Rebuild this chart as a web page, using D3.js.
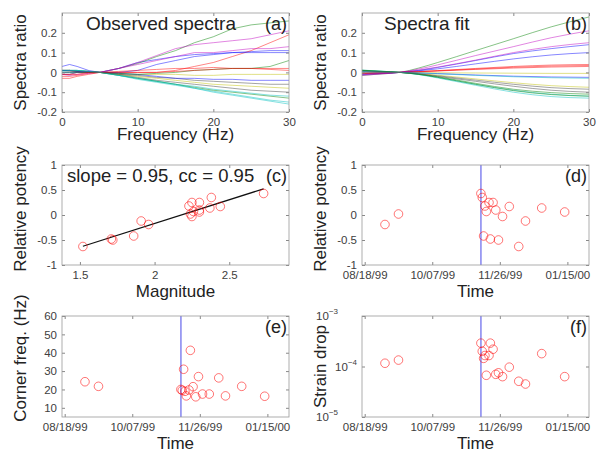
<!DOCTYPE html>
<html>
<head>
<meta charset="utf-8">
<script src="https://cdn.jsdelivr.net/npm/d3@7"></script>
<style>
  body { margin: 0; background: #fff; }
  svg text { font-family: "Liberation Sans", Arial, sans-serif; }
</style>
</head>
<body>
<svg id="fig" width="604" height="452"></svg>
<script>
// ---- data ----
// spectral ratio curves (panel a: observed, panel b: fitted)
const obsFreq = [0, 1, 2, 3.5, 5, 7.5, 10, 12.5, 15, 17.5, 20, 22.5, 25, 27.5, 30];
const obsRatios = [
  [0.03, 0.04, 0.03, 0.01, 0, 0.02, 0.05, 0.065, 0.08, 0.09, 0.095, 0.1, 0.105, 0.11, 0.11],
  [-0.01, -0.01, 0, 0, 0, 0.02, 0.045, 0.08, 0.11, 0.15, 0.18, 0.22, 0.24, 0.25, 0.26],
  [-0.02, -0.02, -0.015, -0.005, 0, 0, 0, 0, 0.01, 0.03, 0.05, 0.08, 0.11, 0.15, 0.19],
  [0.01, 0.01, 0.01, 0.005, 0, -0.015, -0.03, -0.045, -0.06, -0.08, -0.095, -0.11, -0.125, -0.14, -0.15],
  [-0.01, -0.015, -0.01, -0.005, 0, 0.02, 0.05, 0.085, 0.12, 0.14, 0.15, 0.16, 0.17, 0.19, 0.21],
  [0.01, 0.01, 0.005, 0, 0, -0.005, -0.01, -0.01, -0.01, -0.015, -0.015, -0.01, -0.01, -0.01, -0.01],
  [0.01, 0.01, 0.005, 0.005, 0, -0.01, -0.025, -0.04, -0.05, -0.06, -0.07, -0.08, -0.09, -0.095, -0.1],
  [0, 0, 0, 0, 0, 0, 0.01, 0.04, 0.06, 0.08, 0.09, 0.1, 0.1, 0.1, 0.1],
  [0.01, 0.01, 0.01, 0.005, 0, -0.015, -0.03, -0.045, -0.06, -0.075, -0.09, -0.1, -0.11, -0.12, -0.13],
  [-0.03, -0.03, -0.02, -0.01, 0, 0.005, 0.01, 0.015, 0.02, 0.02, 0.025, 0.02, 0.02, 0.015, 0.01],
  [0.005, 0.01, 0.01, 0.005, 0, -0.015, -0.035, -0.05, -0.065, -0.08, -0.1, -0.115, -0.13, -0.145, -0.16],
  [-0.01, -0.01, 0, 0, 0, 0.02, 0.04, 0.06, 0.08, 0.1, 0.1, 0.11, 0.12, 0.12, 0.13],
  [0.01, 0.01, 0.005, 0.005, 0, -0.01, -0.02, -0.03, -0.04, -0.05, -0.06, -0.065, -0.07, -0.075, -0.08],
  [0.01, 0.005, 0.005, 0, 0, -0.01, -0.015, -0.025, -0.03, -0.04, -0.045, -0.05, -0.055, -0.06, -0.06],
  [0.01, 0.01, 0.005, 0.005, 0, -0.005, -0.01, -0.02, -0.03, -0.03, -0.035, -0.035, -0.04, -0.04, -0.04],
  [0, 0, 0, 0, 0, -0.005, -0.01, -0.005, 0, 0.01, 0.015, 0.02, 0.02, 0.03, 0.06],
  [-0.01, -0.01, -0.01, 0, 0, 0, 0, 0, 0.005, 0.01, 0.015, 0.02, 0.02, 0.02, 0.02],
  [0.01, 0.01, 0.01, 0.005, 0, -0.015, -0.03, -0.045, -0.06, -0.07, -0.085, -0.095, -0.105, -0.115, -0.12]
];

const fitFreq = [0, 2.5, 5, 7.5, 10, 15, 20, 25, 30];
const fitRatios = [
  [-0.01, -0.006, 0, 0.01, 0.025, 0.06, 0.095, 0.12, 0.14],
  [-0.015, -0.008, 0, 0.022, 0.05, 0.11, 0.17, 0.23, 0.28],
  [-0.005, -0.003, 0, 0.004, 0.009, 0.02, 0.03, 0.037, 0.04],
  [0.01, 0.006, 0, -0.01, -0.025, -0.06, -0.09, -0.11, -0.12],
  [-0.015, -0.008, 0, 0.017, 0.038, 0.085, 0.13, 0.175, 0.21],
  [0.001, 0, 0, -0.001, -0.002, -0.003, -0.004, -0.005, -0.005],
  [0.008, 0.004, 0, -0.008, -0.02, -0.045, -0.07, -0.09, -0.1],
  [-0.008, -0.004, 0, 0.008, 0.018, 0.043, 0.068, 0.088, 0.1],
  [0.01, 0.005, 0, -0.009, -0.022, -0.055, -0.085, -0.102, -0.11],
  [-0.004, -0.002, 0, 0.003, 0.007, 0.015, 0.022, 0.027, 0.03],
  [0.012, 0.006, 0, -0.011, -0.028, -0.065, -0.1, -0.122, -0.13],
  [-0.012, -0.006, 0, 0.012, 0.027, 0.062, 0.1, 0.13, 0.15],
  [0.006, 0.003, 0, -0.006, -0.014, -0.033, -0.052, -0.067, -0.075],
  [0.007, 0.004, 0, -0.007, -0.017, -0.039, -0.06, -0.077, -0.085],
  [0.003, 0.001, 0, -0.003, -0.006, -0.013, -0.019, -0.023, -0.025],
  [0.011, 0.006, 0, -0.01, -0.025, -0.06, -0.092, -0.112, -0.12],
  [-0.005, -0.002, 0, 0.004, 0.008, 0.017, 0.026, 0.032, 0.035],
  [0.003, 0.001, 0, -0.003, -0.007, -0.015, -0.022, -0.027, -0.03]
];

// events
const eventDates = ["1999-09-02", "1999-09-12", "1999-11-12", "1999-11-13", "1999-11-14", "1999-11-15",
  "1999-11-16", "1999-11-18", "1999-11-19", "1999-11-21", "1999-11-23", "1999-11-25",
  "1999-11-28", "1999-12-03", "1999-12-10", "1999-12-15", "1999-12-27", "2000-01-13"];
const magnitude = [1.96, 2.24, 2.73, 2.38, 1.86, 2.23, 2.26, 2.25, 1.71, 2.30, 2.30, 1.72, 2.25, 2.44, 1.52, 1.91, 2.37, 2.30];
const potency = [-0.19, 0.02, 0.43, 0.35, -0.42, 0.18, 0.07, 0.25, -0.48, 0.25, 0.10, -0.50, -0.03, 0.17, -0.63, -0.12, 0.14, 0.06];
const cornerFreq = [24.2, 21.7, 20.0, 19.5, 31.0, 19.0, 16.5, 19.7, 41.3, 21.5, 16.0, 27.0, 17.5, 17.5, 26.3, 16.5, 21.7, 16.3];
const strainDrop = [1.16e-4, 1.34e-4, 2.9e-4, 2.0e-4, 1.45e-4, 1.65e-4, 0.67e-4, 1.65e-4, 2.9e-4, 2.2e-4, 0.70e-4, 0.75e-4, 0.63e-4, 0.97e-4, 0.51e-4, 0.45e-4, 1.8e-4, 0.63e-4];
const mainshockDate = "1999-11-12";
const fitSlope = 0.95;
const fitIntercept = -2.07;

const freqTicks = [0, 10, 20, 30];
const ratioTicks = [-0.2, -0.1, 0, 0.1, 0.2];
const magTicks = [1.5, 2, 2.5];
const potTicks = [-1, -0.5, 0, 0.5, 1];
const dateTicks = ["1999-08-18", "1999-10-07", "1999-11-26", "2000-01-15"];
const fcTicks = [10, 20, 30, 40, 50, 60];
const sdTicks = [1e-5, 1e-4, 1e-3];

// ---- layout ----
const svg = d3.select("#fig");
const cols = [[62, 289], [362, 589]];
const rows = [[13, 112], [165, 265], [316, 417]];
const xLabelGap = [28, 32, 32];
const lineColors = ["#0000ff", "#008000", "#ff0000", "#00bfbf", "#bf00bf", "#bfbf00", "#404040"];
const parseDate = d3.timeParse("%Y-%m-%d");
const dates = eventDates.map(parseDate);
const num = d => String(d);

function drawAxes(x, y, o) {
  const g = svg.append("g");
  const [x0, x1] = x.range();
  const [y1, y0] = y.range();
  g.append("g").attr("transform", `translate(0,${y1})`)
    .call(d3.axisBottom(x).tickValues(o.xTicks).tickFormat(o.xFmt).tickSize(-3).tickSizeOuter(0).tickPadding(6));
  g.append("g").attr("transform", `translate(0,${y0})`)
    .call(d3.axisTop(x).tickValues(o.xTicks).tickFormat("").tickSize(-3).tickSizeOuter(0));
  g.append("g").attr("transform", `translate(${x0},0)`)
    .call(d3.axisLeft(y).tickValues(o.yTicks).tickFormat(o.yFmt || num).tickSize(-3).tickSizeOuter(0).tickPadding(5));
  g.append("g").attr("transform", `translate(${x1},0)`)
    .call(d3.axisRight(y).tickValues(o.yTicks).tickFormat("").tickSize(-3).tickSizeOuter(0));
  g.selectAll(".domain").remove();
  g.selectAll(".tick line").attr("stroke", "#888");
  g.selectAll(".tick text").attr("fill", "#404040").style("font-size", "11.5px");
  g.append("rect")
    .attr("x", x0).attr("y", y0)
    .attr("width", x1 - x0).attr("height", y1 - y0)
    .attr("fill", "none").attr("stroke", "#999").attr("stroke-width", 0.8);

  svg.append("text")
    .attr("x", (x0 + x1) / 2).attr("y", y1 + o.xGap)
    .attr("text-anchor", "middle").attr("fill", "#222")
    .style("font-size", "17px").text(o.xLabel);
  svg.append("text")
    .attr("transform", `translate(${x0 - 36},${o.yLabelY || (y0 + y1) / 2}) rotate(-90)`)
    .attr("text-anchor", "middle").attr("fill", "#222")
    .style("font-size", "17px").text(o.yLabel);
  svg.append("text")
    .attr("x", x1 - 2).attr("y", y0 + 17)
    .attr("text-anchor", "end").attr("fill", "#222")
    .style("font-size", "18px").text(o.tag);
  return g;
}

function clip(id, x, y) {
  svg.append("clipPath").attr("id", id).append("rect")
    .attr("x", x.range()[0]).attr("y", y.range()[1])
    .attr("width", x.range()[1] - x.range()[0]).attr("height", y.range()[0] - y.range()[1]);
  return `url(#${id})`;
}

// ---- (a) and (b) spectra ----
[[obsFreq, obsRatios, d3.curveLinear, "Observed spectra", 86, "(a)"],
 [fitFreq, fitRatios, d3.curveMonotoneX, "Spectra fit", 384, "(b)"]].forEach(([freq, ratios, curve, title, tx, tag], c) => {
  const x = d3.scaleLinear().domain([0, 30]).range(cols[c]);
  const y = d3.scaleLinear().domain([-0.2, 0.3]).range([rows[0][1], rows[0][0]]);
  const line = d3.line().x((d, i) => x(freq[i])).y(d => y(d)).curve(curve);
  svg.append("g").attr("clip-path", clip("clipSpec" + c, x, y))
    .selectAll("path").data(ratios).enter().append("path")
    .attr("d", line)
    .attr("fill", "none")
    .attr("stroke", (d, i) => lineColors[i % lineColors.length])
    .attr("stroke-width", 0.8)
    .attr("opacity", 0.6);
  drawAxes(x, y, { xTicks: freqTicks, xFmt: num, yTicks: ratioTicks, xGap: xLabelGap[0],
    xLabel: "Frequency (Hz)", yLabel: "Spectra ratio", tag: tag });
  svg.append("text").attr("x", tx).attr("y", 30).attr("fill", "#222")
    .style("font-size", "19px").text(title);
});

// ---- (c) potency vs magnitude ----
{
  const x = d3.scaleLinear().domain([1.38, 2.9]).range(cols[0]);
  const y = d3.scaleLinear().domain([-1, 1]).range([rows[1][1], rows[1][0]]);
  const mExt = d3.extent(magnitude);
  svg.append("line")
    .attr("x1", x(mExt[0])).attr("y1", y(fitSlope * mExt[0] + fitIntercept))
    .attr("x2", x(mExt[1])).attr("y2", y(fitSlope * mExt[1] + fitIntercept))
    .attr("stroke", "#111").attr("stroke-width", 1.2);
  svg.append("g").selectAll("circle").data(magnitude).enter().append("circle")
    .attr("cx", d => x(d)).attr("cy", (d, i) => y(potency[i])).attr("r", 4.3)
    .attr("fill", "none").attr("stroke", "#f00").attr("stroke-width", 0.9).attr("opacity", 0.6);
  drawAxes(x, y, { xTicks: magTicks, xFmt: num, yTicks: potTicks, xGap: xLabelGap[1],
    xLabel: "Magnitude", yLabel: "Relative potency", yLabelY: 209, tag: "(c)" });
  svg.append("text").attr("x", 67).attr("y", 182).attr("fill", "#222")
    .style("font-size", "18.5px").text(`slope = ${fitSlope}, cc = 0.95`);
}

// ---- (d), (e), (f) time panels ----
const timeDomain = [parseDate("1999-08-16"), parseDate("2000-01-31")];
const dateFmt = d3.timeFormat("%m/%d/%y");
const tickDates = dateTicks.map(parseDate);
const timePanels = [
  { col: 1, row: 1, values: potency, y: d3.scaleLinear().domain([-1, 1]), ticks: potTicks,
    yLabel: "Relative potency", yLabelY: 209, tag: "(d)" },
  { col: 0, row: 2, values: cornerFreq, y: d3.scaleLinear().domain([5, 60]), ticks: fcTicks,
    yLabel: "Corner freq. (Hz)", yLabelY: 358, tag: "(e)" },
  { col: 1, row: 2, values: strainDrop, y: d3.scaleLog().domain([1e-5, 1e-3]), ticks: sdTicks,
    yLabel: "Strain drop", tag: "(f)", log: true }
];

timePanels.forEach(p => {
  const x = d3.scaleTime().domain(timeDomain).range(cols[p.col]);
  const y = p.y.range([rows[p.row][1], rows[p.row][0]]);
  svg.append("line")
    .attr("x1", x(parseDate(mainshockDate))).attr("x2", x(parseDate(mainshockDate)))
    .attr("y1", y.range()[0]).attr("y2", y.range()[1])
    .attr("stroke", "#7777ee").attr("stroke-width", 1.8).attr("opacity", 0.75);
  svg.append("g").selectAll("circle").data(p.values).enter().append("circle")
    .attr("cx", (d, i) => x(dates[i])).attr("cy", d => y(d)).attr("r", 4.3)
    .attr("fill", "none").attr("stroke", "#f00").attr("stroke-width", 0.9).attr("opacity", 0.6);
  drawAxes(x, y, { xTicks: tickDates, xFmt: dateFmt, yTicks: p.ticks, xGap: xLabelGap[p.row],
    yFmt: p.log ? () => "" : num,
    xLabel: "Time", yLabel: p.yLabel, yLabelY: p.yLabelY, tag: p.tag });
  if (p.log) {
    // 10^-4 sits next to the axis, the end labels further out
    p.ticks.forEach((t, j) => {
      const txt = svg.append("text")
        .attr("x", cols[p.col][0] - (j === 1 ? 5 : 24)).attr("y", y(t) + 4)
        .attr("text-anchor", "end").attr("fill", "#404040")
        .style("font-size", "11.5px");
      txt.append("tspan").text("10");
      txt.append("tspan").attr("dy", -6).style("font-size", "8px").text("−" + Math.round(-Math.log10(t)));
    });
  }
});
</script>
</body>
</html>
